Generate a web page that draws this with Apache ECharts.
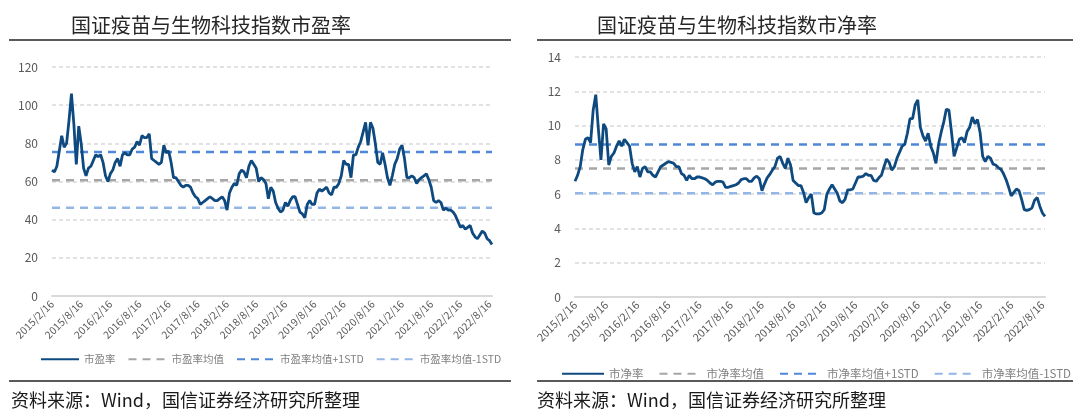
<!DOCTYPE html>
<html>
<head>
<meta charset="utf-8">
<script src="https://cdn.jsdelivr.net/npm/echarts@6/dist/echarts.min.js"></script>
<style>
  html, body { margin: 0; padding: 0; background: #fff; }
  #chart { width: 1080px; height: 416px; }
</style>
</head>
<body>
<div id="chart"></div>
<script>
/********** 数据 **********/
// 半月一个点：2015/2/16, 2015/3/1, 2015/3/16 ... 2022/9/1
var dates = [];
for (var y = 2015, mo = 2, d = 16; dates.length < 182; ) {
    dates.push(y + '/' + mo + '/' + d);
    if (d === 16) { d = 1; mo++; if (mo > 12) { mo = 1; y++; } } else { d = 16; }
}
var tickLabels = ['2015/2/16','2015/8/16','2016/2/16','2016/8/16','2017/2/16','2017/8/16','2018/2/16','2018/8/16',
                  '2019/2/16','2019/8/16','2020/2/16','2020/8/16','2021/2/16','2021/8/16','2022/2/16','2022/8/16'];

// 市盈率
var pe = [66,65,68,76,84,78,80,92,106,90,
          69,89,80,67,63,67,68,71,74,73,
          74,70,63,60,64,66,70,72,68,74,
          75,74,74,77,78,81,79,84,83,83,
          85,72,71,70,69,70,79,75,76,70,
          62,62,60,58,57,58,58,57,54,52,
          51,48,49,50,51,52,51,50,50,51,
          52,50,45,54,57,59,58,64,66,65,
          62,68,71,69,67,60,62,61,59,51,
          57,55,49,46,44,45,49,47,50,52,
          52,48,44,43,41,48,50,48,48,54,
          56,55,56,57,54,53,57,57,59,63,
          71,69,69,62,74,74,78,81,86,91,
          79,91,88,80,70,69,75,69,62,58,
          63,69,72,77,79,72,62,62,63,62,
          59,61,62,63,64,61,57,50,49,50,
          49,45,46,45,45,44,42,39,36,37,
          35,36,37,33,31,30,32,34,33,30,
          29,27];
var peMean = 60.7, pePlus = 75.4, peMinus = 46.2;

// 市净率
var pb = [6.75,7.1,7.6,8.6,9.2,9.3,9.0,10.9,11.8,9.8,
          8.0,10.1,9.8,7.7,8.2,8.4,8.8,9.1,8.8,9.2,
          9.0,8.8,7.8,7.3,7.6,7.0,7.5,7.6,7.3,7.3,
          7.1,7.0,7.3,7.6,7.7,7.8,7.9,7.85,7.8,7.6,
          7.6,7.2,7.1,6.8,7.1,6.9,6.9,7.0,7.0,6.95,
          6.9,6.8,6.65,6.55,6.7,6.75,6.75,6.7,6.4,6.4,
          6.45,6.5,6.55,6.65,6.85,6.9,6.9,6.75,6.75,6.95,
          7.05,6.9,6.2,6.6,6.95,7.15,7.4,7.6,8.1,8.2,
          7.8,7.5,8.1,7.7,6.8,6.65,6.5,6.5,6.1,5.5,
          5.8,6.0,4.9,4.85,4.85,4.9,5.1,6.0,6.3,6.55,
          6.3,6.05,5.6,5.5,5.7,6.25,6.25,6.3,6.65,7.0,
          7.0,7.05,7.2,7.1,7.1,6.8,6.75,6.95,7.1,7.6,
          8.05,7.85,7.4,7.6,8.1,8.45,8.8,8.9,9.55,10.4,
          10.4,11.2,11.5,9.9,9.4,9.1,9.55,8.8,8.4,7.8,
          8.9,9.6,10.2,10.95,10.9,9.6,8.2,8.7,9.2,9.3,
          9.0,9.65,9.9,10.5,10.1,10.35,9.6,8.2,7.9,8.2,
          8.1,7.75,7.7,7.55,7.45,7.2,6.85,6.4,5.9,6.1,
          6.3,6.2,5.7,5.1,5.05,5.1,5.2,5.65,5.8,5.3,
          4.9,4.7];
var pbMean = 7.49, pbPlus = 8.9, pbMinus = 6.05;

var peNames = ['市盈率','市盈率均值','市盈率均值+1STD','市盈率均值-1STD'];
var pbNames = ['市净率','市净率均值','市净率均值+1STD','市净率均值-1STD'];

/********** 样式 **********/
var FONT = '"Noto Sans CJK SC", "Liberation Sans", sans-serif';
var C_MAIN = '#0e4a7f', C_MEAN = '#a6a6a6', C_PLUS = '#4f88d8', C_MINUS = '#93b6e6';

function flatLine(v) {
    return [[dates[0], v], [dates[dates.length - 1], v]];
}
function xAxisOf(gi, fs) {
    return {
        type: 'category', gridIndex: gi, data: dates, boundaryGap: false,
        axisTick: { show: false },
        axisLine: { lineStyle: { color: '#d9d9d9', width: 2 } },
        axisLabel: {
            rotate: 45, fontSize: fs, color: '#595959', fontFamily: FONT, margin: 6,
            interval: function (idx, val) { return tickLabels.indexOf(val) >= 0; }
        },
        splitLine: { show: false }
    };
}
function yAxisOf(gi, max, step) {
    return {
        type: 'value', gridIndex: gi, min: 0, max: max, interval: step,
        axisLine: { show: false }, axisTick: { show: false },
        axisLabel: { fontSize: 12, color: '#595959', fontFamily: FONT, margin: 14 },
        splitLine: { lineStyle: { color: '#d9d9d9', type: [4, 3], width: 1.5 } }
    };
}
function dashSeries(name, gi, v, color) {
    return {
        name: name, type: 'line', xAxisIndex: gi, yAxisIndex: gi, data: flatLine(v),
        symbol: 'none', silent: true, z: 2,
        lineStyle: { color: color, width: 2.5, type: [8, 6] },
        itemStyle: { color: color }
    };
}
function mainSeries(name, gi, arr) {
    return {
        name: name, type: 'line', xAxisIndex: gi, yAxisIndex: gi, data: arr,
        symbol: 'none', z: 5,
        lineStyle: { color: C_MAIN, width: 2.8 },
        itemStyle: { color: C_MAIN }
    };
}

var chart = echarts.init(document.getElementById('chart'));
var option = {
    animation: false,
    backgroundColor: '#fff',
    title: [
        { text: '国证疫苗与生物科技指数市盈率', left: 66, top: 10,
          textStyle: { fontSize: 20, fontWeight: 'normal', color: '#262626', fontFamily: FONT } },
        { text: '国证疫苗与生物科技指数市净率', left: 592, top: 10,
          textStyle: { fontSize: 20, fontWeight: 'normal', color: '#262626', fontFamily: FONT } }
    ],
    grid: [
        { left: 52, right: 588, top: 67, bottom: 120 },
        { left: 575, right: 35, top: 57, bottom: 119 }
    ],
    xAxis: [xAxisOf(0, 10.5), xAxisOf(1, 11)],
    yAxis: [yAxisOf(0, 120, 20), yAxisOf(1, 14, 2)],
    legend: [
        { data: peNames, left: 35, top: 349, width: 500, itemWidth: 38, itemHeight: 12, itemGap: 12,
          itemStyle: { opacity: 0 },
          textStyle: { fontSize: 10.5, color: '#808080', fontFamily: FONT } },
        { data: pbNames, left: 556, top: 363, width: 522, itemWidth: 42, itemHeight: 12, itemGap: 15,
          itemStyle: { opacity: 0 },
          textStyle: { fontSize: 11.5, color: '#808080', fontFamily: FONT } }
    ],
    series: [
        dashSeries(peNames[1], 0, peMean, C_MEAN),
        dashSeries(peNames[2], 0, pePlus, C_PLUS),
        dashSeries(peNames[3], 0, peMinus, C_MINUS),
        mainSeries(peNames[0], 0, pe),
        dashSeries(pbNames[1], 1, pbMean, C_MEAN),
        dashSeries(pbNames[2], 1, pbPlus, C_PLUS),
        dashSeries(pbNames[3], 1, pbMinus, C_MINUS),
        mainSeries(pbNames[0], 1, pb)
    ],
    graphic: [
        { type: 'line', shape: { x1: 9, y1: 40, x2: 511, y2: 40 }, style: { stroke: '#5a5a5a', lineWidth: 2 } },
        { type: 'line', shape: { x1: 537, y1: 40, x2: 1073, y2: 40 }, style: { stroke: '#5a5a5a', lineWidth: 2 } },
        { type: 'line', shape: { x1: 9, y1: 381, x2: 511, y2: 381 }, style: { stroke: '#5a5a5a', lineWidth: 2 } },
        { type: 'line', shape: { x1: 537, y1: 381, x2: 1073, y2: 381 }, style: { stroke: '#5a5a5a', lineWidth: 2 } },
        { type: 'text', left: 11, top: 391,
          style: { text: '资料来源：Wind，国信证券经济研究所整理', fontSize: 18, fill: '#1a1a1a', fontFamily: FONT } },
        { type: 'text', left: 537, top: 391,
          style: { text: '资料来源：Wind，国信证券经济研究所整理', fontSize: 18, fill: '#1a1a1a', fontFamily: FONT } }
    ]
};
chart.setOption(option);
</script>
</body>
</html>
